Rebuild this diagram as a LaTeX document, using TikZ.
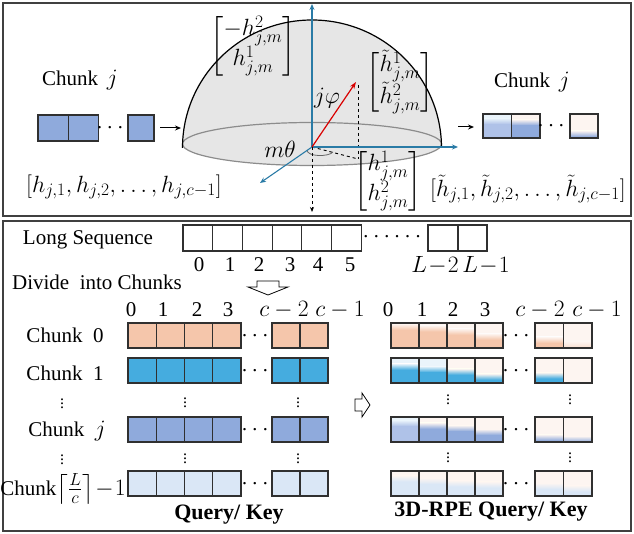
\documentclass[tikz,border=0pt]{standalone}
\usepackage{fix-cm}
\usepackage{amsmath}
\usepackage{fontspec}
\setmainfont{Liberation Serif}
\DeclareMathSizes{21}{23.5}{17.5}{13}
\DeclareMathSizes{22}{23.5}{17.5}{13}
\usetikzlibrary{arrows.meta}
\definecolor{salmon}{HTML}{F5C6AB}
\definecolor{cblue}{HTML}{45ACDF}
\definecolor{cj}{HTML}{8FAADC}
\definecolor{cjl}{HTML}{AFC2E8}
\definecolor{clast}{HTML}{DAE7F6}
\definecolor{pale}{HTML}{FDF5F1}
\definecolor{paleb}{HTML}{EAF4FB}
\definecolor{axisc}{HTML}{2A7BA6}
\definecolor{domeg}{HTML}{E6E6E6}
\definecolor{cellc}{HTML}{303030}
\newcommand{\scell}[5]{%
  \fill[#5] (#1,#2) rectangle ++(#3,#4);
  \draw[cellline] (#1,#2) rectangle ++(#3,#4);}
\newcommand{\gcell}[7]{%
  \pgfmathsetmacro{\ya}{#2+#6*#4-3}%
  \pgfmathsetmacro{\yb}{#2+#6*#4+3}%
  \fill[#7] (#1,#2) rectangle ++(#3,#4);
  \shade[top color=#7,bottom color=#5] (#1,\ya) rectangle (#1+#3,\yb);
  \fill[#5] (#1,\yb) rectangle (#1+#3,#2+#4);
  \draw[cellline] (#1,#2) rectangle ++(#3,#4);}
\newcommand{\mymat}[2]{\renewcommand{\arraystretch}{0.8}\begin{bmatrix} #1\\ #2\end{bmatrix}}
\tikzset{
  cellline/.style={draw=cellc, line width=1.1pt},
  panel/.style={draw=black!75, line width=1.4pt},
  txt/.style={inner sep=0pt, font=\fontsize{21}{25}\selectfont},
  btxt/.style={inner sep=0pt, font=\fontsize{22}{26}\selectfont\bfseries},
  vd/.style={inner sep=0pt, font=\fontsize{16}{18}\selectfont},
  axis/.style={draw=axisc, line width=1.1pt, -{Stealth[length=6pt,width=5pt]}},
  blk/.style={draw=black, line width=1pt, -{Stealth[length=6pt,width=5pt]}},
  dsh/.style={draw=black, line width=0.9pt, dashed},
  hollow/.style={draw=black, line width=0.8pt, fill=white},
}
\begin{document}
\begin{tikzpicture}[x=1pt,y=-1pt]
\useasboundingbox (0,0) rectangle (634,534);
% panels
\draw[panel] (3,3) rectangle (631,216);
\draw[panel] (3,221) rectangle (631,531);

% ---------- top panel ----------
% dome
\begin{scope}
  \clip (150,0) rectangle (480,145);
  \fill[domeg] (312,145) ellipse[x radius=129.5, y radius=125];
\end{scope}
\fill[domeg] (312,144) ellipse[x radius=129.5, y radius=21.5];
\draw[black!45, line width=1.2pt] (312,144) ellipse[x radius=129.5, y radius=21.5];
\begin{scope}
  \clip (150,0) rectangle (480,148);
  \draw[black, line width=1.2pt] (312,148) ellipse[x radius=129.5, y radius=128];
\end{scope}
\coordinate (O) at (312,147);
\coordinate (ztop) at (312,4);
\coordinate (xr) at (458,147);
\coordinate (yd) at (260,183);
\coordinate (zb) at (312,212);
\coordinate (vec) at (356,82);
\coordinate (proj) at (358,159);
\coordinate (vtop) at (358,85);
\draw[dsh] (O) -- (proj);
\draw[dsh] (vtop) -- (proj);
\draw[black!60, line width=0.8pt] (307,150) .. controls (307,157) and (329,157) .. (333,152);
\draw[axis] (O) -- (ztop);
\draw[axis] (O) -- (xr);
\draw[axis] (O) -- (yd);
\draw[dsh, -{Stealth[length=5pt,width=4pt]}] (O) -- (zb);
\draw[draw=red!85!black, line width=1.2pt, -{Stealth[length=7pt,width=5pt]}] (O) -- (vec);

\node[txt] (m1) at (253,46) {$\mymat{-h^2_{j,m}}{h^1_{j,m}}$};
\node[txt] (m2) at (400,82) {$\mymat{\tilde{h}^1_{j,m}}{\tilde{h}^2_{j,m}}$};
\node[txt] (m3) at (388,181) {$\mymat{h^1_{j,m}}{h^2_{j,m}}$};
\node[txt] (phi) at (327,98) {$j\varphi$};
\node[txt] (th) at (280,149) {$m\theta$};

\node[txt] (chl) at (80,80) {Chunk \,$j$};
\node[txt] (chr) at (532,82) {Chunk \,$j$};
\node[txt] (hl) at (124,187) {$[h_{j,1}, h_{j,2}, \ldots, h_{j,c-1}]$};
\node[txt] (hr) at (528,189) {$[\tilde{h}_{j,1}, \tilde{h}_{j,2}, \ldots, \tilde{h}_{j,c-1}]$};

% left chunk j
\scell{38}{115}{30.5}{26}{cj}
\scell{68.5}{115}{30}{26}{cj}
\node[txt] (dl) at (112,128) {$\cdots$};
\scell{128}{115}{26}{26}{cj}
\coordinate (la) at (160,128);
\coordinate (lb) at (181,128);
\draw[blk] (la) -- (lb);
% right chunk j
\coordinate (ra) at (458,127);
\coordinate (rb) at (474,127);
\draw[blk] (ra) -- (rb);
\gcell{483}{114}{28.5}{24}{cjl}{0.3}{paleb}
\gcell{511.5}{114}{28.5}{24}{cj}{0.35}{pale}
\node[txt] (dr) at (553,126) {$\cdots$};
\gcell{570}{114}{28}{24}{cj}{0.82}{pale}

% ---------- bottom panel ----------
\node[txt] (ls) at (88,240) {Long Sequence};
\foreach \i in {0,...,5} { \scell{183+29.7*\i}{225}{29.7}{26}{white} }
\node[txt] (ldots) at (394,237) {$\cdots\cdots$};
\scell{428}{225}{30}{26}{white}
\scell{458}{225}{29}{26}{white}
\foreach \lab/\xx in {0/199,1/230,2/259,3/290,4/318,5/350} { \node[txt] at (\xx,265) {\lab}; }
\node[txt] (lm2) at (435,265) {$L\!-\!2$};
\node[txt] (lm1) at (486,265) {$L\!-\!1$};

\node[txt] (div) at (97,282) {Divide \ into Chunks};
\draw[hollow] (257,281) -- (279,281) -- (279,287) -- (288,287) -- (268,295) -- (248,287) -- (257,287) -- cycle;

% column labels
\foreach \lab/\xx in {0/131,1/163,2/197,3/228} { \node[txt] at (\xx,310) {\lab}; }
\node[txt] (lc2) at (284,310) {$c-2$};
\node[txt] (lc1) at (340,310) {$c-1$};
\foreach \lab/\xx in {0/388,1/422,2/453,3/485} { \node[txt] at (\xx,310) {\lab}; }
\node[txt] (rc2) at (540,310) {$c-2$};
\node[txt] (rc1) at (597,310) {$c-1$};

% chunk labels
\node[txt] (c0) at (65,335) {Chunk \ 0};
\node[txt] (c1) at (65,373) {Chunk \ 1};
\node[vd] (cvd1) at (62,401) {$\vdots$};
\node[txt] (cjj) at (67,431) {Chunk \ $j$};
\node[vd] (cvd2) at (62,457) {$\vdots$};
\node[txt] (cl) at (63,489) {Chunk$\left\lceil\frac{L}{c}\right\rceil\!-\!1$};

% left rows
\foreach \yy/\cc in {323/salmon,358/cblue,417/cj,471/clast} {
  \foreach \i in {0,...,3} { \scell{128+28.25*\i}{\yy}{28.25}{25}{\cc} }
  \scell{272}{\yy}{28}{25}{\cc}
  \scell{300}{\yy}{28}{25}{\cc}
  \node[txt] at (257,\yy+13) {$\cdots$};
}
\foreach \xx in {185,298} {
  \node[vd] at (\xx,400) {$\vdots$};
  \node[vd] at (\xx,456) {$\vdots$};
}
\node[btxt] (qk) at (229,515) {Query/ Key};

% hollow right arrow
\draw[hollow] (355,399) -- (362,399) -- (362,393) -- (370,405) -- (362,417) -- (362,411) -- (355,411) -- cycle;

% right rows (rotated)
\gcell{391}{323}{28}{25}{salmon}{0.15}{pale}
\gcell{419}{323}{28}{25}{salmon}{0.22}{pale}
\gcell{447}{323}{28}{25}{salmon}{0.35}{pale}
\gcell{475}{323}{28}{25}{salmon}{0.55}{pale}
\gcell{535}{323}{28.5}{25}{salmon}{0.68}{pale}
\gcell{563.5}{323}{28.5}{25}{salmon!45!pale}{0.85}{pale}
\node[txt] at (518,336) {$\cdots$};

\gcell{391}{358}{28}{25}{cblue}{0.35}{paleb}
\gcell{419}{358}{28}{25}{cblue}{0.45}{paleb}
\gcell{447}{358}{28}{25}{cblue}{0.55}{pale}
\gcell{475}{358}{28}{25}{cblue}{0.75}{pale}
\gcell{535}{358}{28.5}{25}{cblue}{0.7}{pale}
\scell{563.5}{358}{28.5}{25}{pale}
\node[txt] at (518,371) {$\cdots$};

\gcell{391}{417}{28}{25}{cjl}{0.25}{paleb}
\gcell{419}{417}{28}{25}{cj}{0.35}{pale}
\gcell{447}{417}{28}{25}{cj}{0.45}{pale}
\gcell{475}{417}{28}{25}{cj}{0.6}{pale}
\gcell{535}{417}{28.5}{25}{cj}{0.82}{pale}
\gcell{563.5}{417}{28.5}{25}{cj}{0.88}{pale}
\node[txt] at (518,430) {$\cdots$};

\gcell{391}{471}{28}{25}{clast}{0.3}{pale}
\gcell{419}{471}{28}{25}{clast}{0.4}{pale}
\gcell{447}{471}{28}{25}{clast}{0.5}{pale}
\gcell{475}{471}{28}{25}{clast}{0.55}{pale}
\gcell{535}{471}{28.5}{25}{clast}{0.6}{pale}
\gcell{563.5}{471}{28.5}{25}{clast}{0.7}{pale}
\node[txt] at (518,484) {$\cdots$};

\foreach \xx in {448,570} {
  \node[vd] at (\xx,397) {$\vdots$};
  \node[vd] at (\xx,455) {$\vdots$};
}
\node[btxt] (rqk) at (491,512) {3D-RPE Query/ Key};
\end{tikzpicture}
\end{document}
